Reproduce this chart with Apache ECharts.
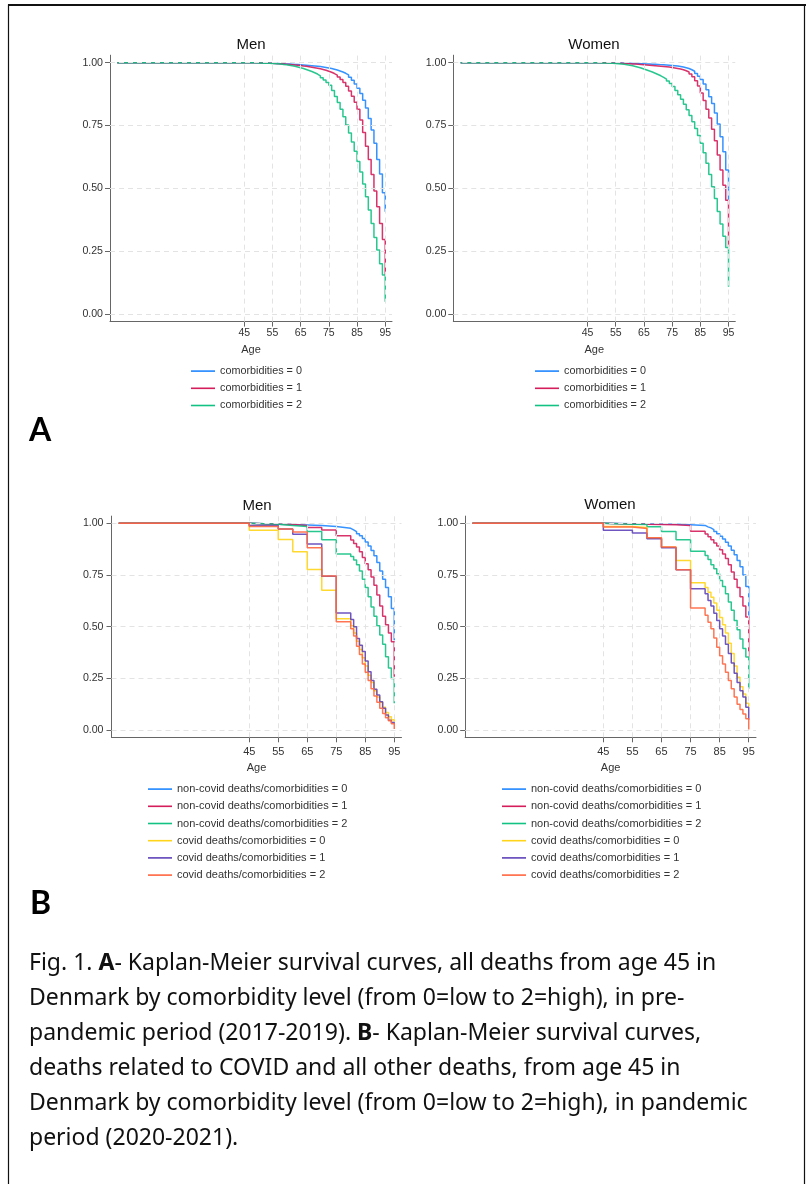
<!DOCTYPE html>
<html><head><meta charset="utf-8">
<script src="https://cdn.jsdelivr.net/npm/echarts@6/dist/echarts.min.js"></script>
<style>html,body{margin:0;padding:0;background:#fff;} #c{width:806px;height:1184px;}</style>
</head><body><div id="c"></div><script>
// ---------- DATA ----------
const agesA = [0,45,46,47,48,49,50,51,52,53,54,55,56,57,58,59,60,61,62,63,64,65,66,67,68,69,70,71,72,73,74,75,76,77,78,79,80,81,82,83,84,85,86,87,88,89,90,91,92,93,94,95];
const agesB = [0,45,55,60,65,70,75,80,81,82,83,84,85,86,87,88,89,90,91,92,93,94,95];
const xTickVals = [45,55,65,75,85,95];
const yTickVals = [0,0.25,0.5,0.75,1];

const namesA = ['comorbidities = 0','comorbidities = 1','comorbidities = 2'];
const namesB = ['non-covid deaths/comorbidities = 0','non-covid deaths/comorbidities = 1','non-covid deaths/comorbidities = 2',
                'covid deaths/comorbidities = 0','covid deaths/comorbidities = 1','covid deaths/comorbidities = 2'];

// Panel A, Men
const menA_c0 = [1,1.000,
 1.000,1.000,1.000,0.9995,0.999,0.999,0.9985,0.998,0.998,0.997,
 0.997,0.996,0.996,0.995,0.995,0.994,0.993,0.993,0.992,0.991,
 0.990,0.989,0.988,0.987,0.986,0.985,0.983,0.981,0.979,0.977,
 0.974,0.971,0.967,0.963,0.958,0.952,0.942,0.930,0.915,0.898,
 0.878,0.851,0.820,0.778,0.732,0.680,0.615,0.557,0.483,0.407];
const menA_c1 = [1,1.000,
 1.000,1.000,1.000,1.000,0.999,0.999,0.999,0.998,0.998,0.997,
 0.996,0.996,0.995,0.994,0.993,0.992,0.991,0.990,0.989,0.987,
 0.986,0.984,0.982,0.980,0.978,0.976,0.973,0.970,0.966,0.962,
 0.957,0.951,0.943,0.933,0.921,0.906,0.888,0.867,0.843,0.815,
 0.772,0.722,0.668,0.615,0.555,0.490,0.427,0.360,0.297,0.155];
const menA_c2 = [1,1.000,
 1.000,1.000,0.9995,0.999,0.999,0.998,0.998,0.998,0.997,0.997,
 0.996,0.995,0.993,0.992,0.990,0.988,0.986,0.983,0.980,0.977,
 0.973,0.969,0.965,0.960,0.955,0.948,0.940,0.931,0.921,0.910,
 0.890,0.866,0.842,0.815,0.785,0.752,0.720,0.685,0.648,0.607,
 0.565,0.518,0.467,0.414,0.360,0.305,0.255,0.200,0.155,0.049];
// Panel A, Women
const womenA_c0 = [1,1.000,
 1.000,1.000,1.000,1.000,1.000,0.9995,0.9995,0.999,0.999,0.999,
 0.9985,0.998,0.998,0.9975,0.997,0.997,0.9965,0.996,0.9955,0.995,
 0.9945,0.994,0.9935,0.993,0.9925,0.992,0.991,0.990,0.989,0.988,
 0.987,0.985,0.983,0.980,0.977,0.972,0.966,0.957,0.946,0.933,
 0.915,0.893,0.865,0.838,0.800,0.756,0.706,0.646,0.573,0.452];
const womenA_c1 = [1,1.000,
 1.000,1.000,1.000,0.9995,0.9995,0.999,0.999,0.9985,0.998,0.998,
 0.9975,0.997,0.9965,0.996,0.995,0.9945,0.994,0.993,0.992,0.991,
 0.990,0.989,0.988,0.987,0.986,0.985,0.984,0.983,0.981,0.979,
 0.977,0.975,0.972,0.968,0.963,0.955,0.944,0.928,0.907,0.880,
 0.850,0.815,0.780,0.735,0.690,0.633,0.573,0.513,0.453,0.268];
const womenA_c2 = [1,1.000,
 1.000,1.000,0.9995,0.999,0.999,0.9985,0.998,0.998,0.997,0.996,
 0.995,0.994,0.992,0.990,0.988,0.985,0.982,0.979,0.975,0.971,
 0.967,0.963,0.958,0.953,0.948,0.942,0.935,0.927,0.917,0.905,
 0.890,0.873,0.855,0.835,0.813,0.790,0.765,0.738,0.710,0.680,
 0.642,0.600,0.555,0.507,0.460,0.408,0.358,0.310,0.265,0.109];
// Panel B, Men
const menB_nc0 = [1,0.996,0.994,0.992,0.990,0.985,0.976,0.968,0.960,0.950,0.940,0.927,0.910,0.890,0.868,0.843,0.810,0.770,0.730,0.690,0.645,0.588,0.435];
const menB_nc1 = [1,0.996,0.994,0.990,0.980,0.968,0.940,0.919,0.903,0.885,0.862,0.835,0.805,0.775,0.740,0.700,0.653,0.600,0.550,0.510,0.470,0.427,0.258];
const menB_nc2 = [1,0.995,0.990,0.985,0.960,0.920,0.852,0.839,0.823,0.800,0.770,0.730,0.690,0.645,0.595,0.550,0.505,0.460,0.415,0.355,0.300,0.250,0.130];
const menB_c0  = [1,0.966,0.922,0.862,0.777,0.676,0.538,0.505,0.470,0.430,0.390,0.350,0.310,0.265,0.230,0.190,0.160,0.135,0.110,0.085,0.065,0.050,0.040];
const menB_c1  = [1,0.990,0.972,0.947,0.900,0.744,0.566,0.535,0.500,0.443,0.410,0.380,0.334,0.282,0.240,0.197,0.170,0.137,0.105,0.073,0.048,0.036,0.030];
const menB_c2  = [1,0.985,0.972,0.958,0.882,0.745,0.524,0.490,0.455,0.405,0.365,0.320,0.280,0.240,0.200,0.165,0.135,0.105,0.080,0.060,0.045,0.030,0.005];
// Panel B, Women
const womenB_nc0 = [1,0.998,0.997,0.996,0.995,0.993,0.990,0.983,0.978,0.970,0.960,0.950,0.938,0.924,0.908,0.890,0.870,0.848,0.820,0.790,0.750,0.695,0.545];
const womenB_nc1 = [1,0.997,0.995,0.994,0.993,0.990,0.962,0.949,0.935,0.920,0.905,0.890,0.872,0.852,0.830,0.800,0.765,0.730,0.690,0.645,0.600,0.547,0.355];
const womenB_nc2 = [1,0.996,0.994,0.984,0.960,0.921,0.865,0.845,0.825,0.800,0.780,0.756,0.723,0.695,0.659,0.619,0.579,0.530,0.485,0.440,0.395,0.354,0.200];
const womenB_c0  = [1,0.985,0.980,0.928,0.884,0.820,0.712,0.690,0.667,0.643,0.615,0.580,0.545,0.510,0.470,0.420,0.370,0.310,0.255,0.210,0.175,0.130,0.113];
const womenB_c1  = [1,0.966,0.953,0.926,0.882,0.776,0.683,0.659,0.627,0.600,0.565,0.530,0.490,0.455,0.415,0.370,0.325,0.275,0.230,0.190,0.160,0.110,0.050];
const womenB_c2  = [1,0.982,0.975,0.930,0.885,0.776,0.590,0.555,0.522,0.490,0.445,0.400,0.360,0.320,0.280,0.240,0.200,0.160,0.125,0.100,0.078,0.055,0.003];

const captionLines = [
 'Fig. 1. {b|A}- Kaplan-Meier survival curves, all deaths from age 45 in',
 'Denmark by comorbidity level (from 0=low to 2=high), in pre-',
 'pandemic period (2017-2019). {b|B}- Kaplan-Meier survival curves,',
 'deaths related to COVID and all other deaths, from age 45 in',
 'Denmark by comorbidity level (from 0=low to 2=high), in pandemic',
 'period (2020-2021).'
];

// ---------- STYLE / LAYOUT ----------
const COLORS = ['#1f86ff','#d41d5a','#12c184','#ffd41a','#5f42b8','#ff6640'];
const FONT = '"Liberation Sans", Arial, sans-serif';
const CAPFONT = '"Noto Sans", "Open Sans", sans-serif';
const panels = [
  {grid:{left:110, top:55.2, width:282, height:266.4}, x:[-2.6,97.4], y:[-0.03,1.03], ages:agesA,
   vals:[menA_c0,menA_c1,menA_c2], names:namesA, legend:{left:191, top:362.5, gap:10, fs:10.8},
   title:{text:'Men', x:251, y:45}, xl:10.5, xm:6, ym:7, ng:23},
  {grid:{left:453.3, top:55.2, width:282, height:266.4}, x:[-2.6,97.4], y:[-0.03,1.03], ages:agesA,
   vals:[womenA_c0,womenA_c1,womenA_c2], names:namesA, legend:{left:535, top:362.5, gap:10, fs:10.8},
   title:{text:'Women', x:594, y:45}, xl:10.5, xm:6, ym:7, ng:23},
  {grid:{left:111.5, top:516.1, width:290, height:221.2}, x:[-2.5,97.5], y:[-0.035,1.035], ages:agesB,
   vals:[menB_nc0,menB_nc1,menB_nc2,menB_c0,menB_c1,menB_c2], names:namesB, legend:{left:148, top:780.5, gap:11, fs:11},
   title:{text:'Men', x:257, y:506}, xl:11, xm:9, ym:8, ng:25},
  {grid:{left:465.2, top:516.1, width:290.8, height:221.2}, x:[-2.5,97.5], y:[-0.035,1.035], ages:agesB,
   vals:[womenB_nc0,womenB_nc1,womenB_nc2,womenB_c0,womenB_c1,womenB_c2], names:namesB, legend:{left:502, top:780.5, gap:11, fs:11},
   title:{text:'Women', x:610, y:505}, xl:11, xm:9, ym:7, ng:25}
];

const grids=[], xAxes=[], yAxes=[], series=[], legends=[], graphics=[];
panels.forEach((p, i) => {
  grids.push(Object.assign({containLabel:false}, p.grid));
  xAxes.push({
    type:'value', gridIndex:i, min:p.x[0], max:p.x[1],
    name:'Age', nameLocation:'middle', nameGap:p.ng,
    nameTextStyle:{fontSize:11, color:'#333', fontFamily:FONT},
    axisLine:{show:true, onZero:false, lineStyle:{color:'#666', width:1}},
    axisTick:{show:true, customValues:xTickVals, length:5, lineStyle:{color:'#666'}},
    axisLabel:{show:true, customValues:xTickVals, fontSize:p.xl, color:'#333', margin:p.xm, fontFamily:FONT},
    splitLine:{show:false}
  });
  yAxes.push({
    type:'value', gridIndex:i, min:p.y[0], max:p.y[1],
    axisLine:{show:true, onZero:false, lineStyle:{color:'#666', width:1}},
    axisTick:{show:true, customValues:yTickVals, length:5, lineStyle:{color:'#666'}},
    axisLabel:{show:true, customValues:yTickVals, fontSize:10.6, color:'#333', margin:p.ym, fontFamily:FONT,
               formatter:(v)=>Number(v).toFixed(2)},
    splitLine:{show:false}
  });
  // grid lines
  series.push({
    type:'line', xAxisIndex:i, yAxisIndex:i, data:[[0,1]], z:1, silent:true,
    showSymbol:false, symbol:'none', lineStyle:{opacity:0}, tooltip:{show:false},
    markLine:{silent:true, symbol:['none','none'], label:{show:false}, animation:false,
      lineStyle:{color:'#e3e3e3', type:[5,4], width:1},
      emphasis:{disabled:true},
      data:[...xTickVals.map(v=>({xAxis:v})), ...yTickVals.map(v=>({yAxis:v}))]}
  });
  p.vals.forEach((vals, k) => {
    series.push({
      type:'line', name:p.names[k], xAxisIndex:i, yAxisIndex:i, step:'end',
      data:p.ages.map((a, j) => [a, vals[j]]),
      showSymbol:false, symbol:'none', color:COLORS[k], z:2+k,
      lineStyle:{width:1.5, opacity:0.9, color:COLORS[k]}
    });
  });
  legends.push({
    orient:'vertical', left:p.legend.left, top:p.legend.top, padding:0, itemGap:0,
    itemWidth:24, itemHeight:1.6, icon:'rect', itemTextGap:p.legend.gap, selectedMode:false,
    data:p.names, textStyle:{fontSize:p.legend.fs, color:'#333', fontFamily:FONT, lineHeight:17.2}
  });
  graphics.push({type:'text', x:p.title.x, y:p.title.y, silent:true,
    style:{text:p.title.text, fill:'#111', fontSize:15, fontFamily:FONT, align:'center', verticalAlign:'middle'}});
});

// panel letters
graphics.push({type:'text', x:29, y:431, silent:true,
  style:{text:'A', fill:'#000', fontSize:32, fontWeight:'bold', fontFamily:'Lato', align:'left', verticalAlign:'middle'}});
graphics.push({type:'text', x:30, y:904, silent:true,
  style:{text:'B', fill:'#000', fontSize:32, fontWeight:'bold', fontFamily:'Lato', align:'left', verticalAlign:'middle'}});
// caption
captionLines.forEach((t, i) => {
  graphics.push({type:'text', x:29, y:963 + i*35, silent:true,
    style:{text:t, fill:'#111', fontSize:23, fontFamily:CAPFONT, align:'left', verticalAlign:'middle',
      rich:{b:{fontSize:23, fontFamily:CAPFONT, fontWeight:'bold', fill:'#111'}}}});
});
// frame
graphics.push({type:'rect', silent:true, shape:{x:8.5, y:5, width:796, height:1200},
  style:{fill:'none', stroke:'#111', lineWidth:1.2}});
graphics.push({type:'line', silent:true, shape:{x1:8, y1:5, x2:806, y2:5},
  style:{stroke:'#111', lineWidth:2.2}});

const chart = echarts.init(document.getElementById('c'), null, {width:806, height:1184, renderer:'canvas'});
chart.setOption({
  animation:false,
  backgroundColor:'#fff',
  grid:grids, xAxis:xAxes, yAxis:yAxes, series:series, legend:legends, graphic:graphics
});
</script></body></html>
